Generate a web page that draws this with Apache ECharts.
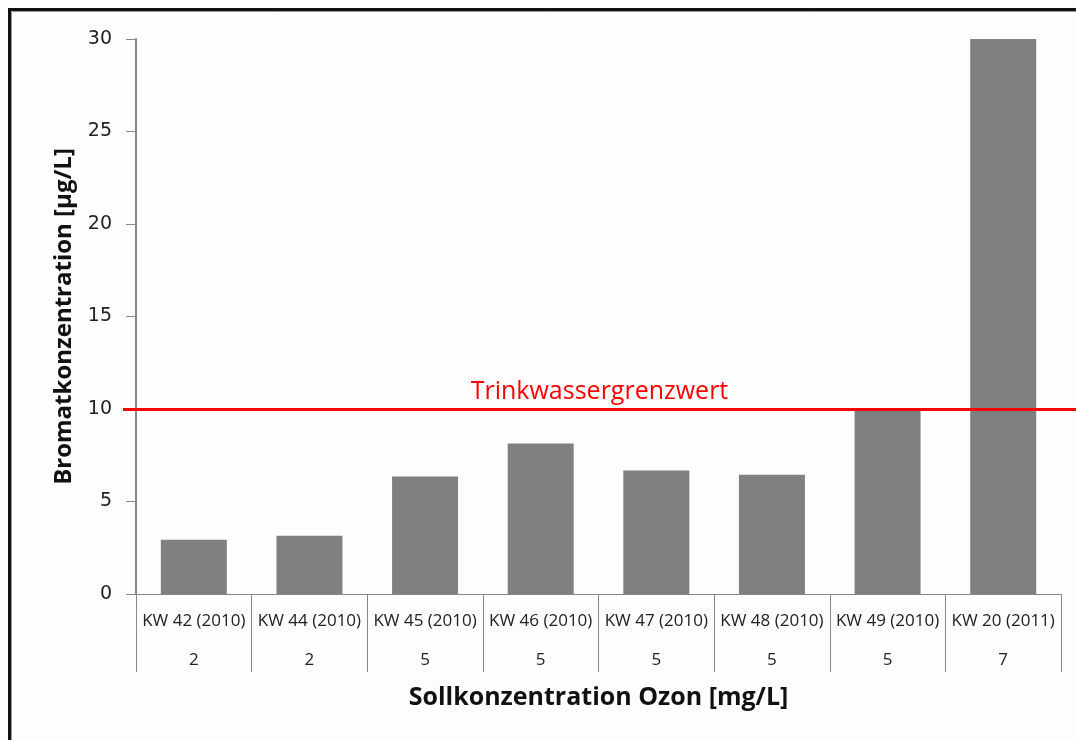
<!DOCTYPE html>
<html>
<head>
<meta charset="utf-8">
<script src="https://cdn.jsdelivr.net/npm/echarts@6/dist/echarts.min.js"></script>
<style>
html,body{margin:0;padding:0;background:#fff;}
#main{width:1076px;height:740px;}
</style>
</head>
<body>
<div id="main"></div>
<script>
const categories = ['KW 42 (2010)','KW 44 (2010)','KW 45 (2010)','KW 46 (2010)','KW 47 (2010)','KW 48 (2010)','KW 49 (2010)','KW 20 (2011)'];
const ozone = ['2','2','5','5','5','5','5','7'];
const bromate = [2.93, 3.15, 6.35, 8.13, 6.68, 6.45, 9.9, 30];
const limitValue = 10;
const limitLabel = 'Trinkwassergrenzwert';
const yTitle = 'Bromatkonzentration [µg/L]';
const xTitle = 'Sollkonzentration Ozon [mg/L]';

const chart = echarts.init(document.getElementById('main'));
const axisGray = '#878787';
chart.setOption({
  backgroundColor: '#fdfdfd',
  animation: false,
  graphic: [
    {type:'rect', shape:{x:9.5,y:9.5,width:1200,height:900}, style:{fill:'none', stroke:'#111', lineWidth:3}, z:100},
    {type:'rect', shape:{x:11.5,y:11.5,width:1200,height:900}, style:{fill:'none', stroke:'#9a9a9a', lineWidth:1}, z:100}
  ],
  grid: [
    {left:136, right:15, top:39, bottom:146},
    {left:123, right:0, top:39, bottom:146}
  ],
  xAxis: [
    {
      type:'category', gridIndex:0, data: categories,
      axisLine:{show:true, lineStyle:{color:axisGray, width:1}},
      axisTick:{show:true, length:78, interval:0, lineStyle:{color:axisGray, width:1}},
      axisLabel:{
        interval:0, margin:8,
        formatter: function(v, i){ return '{a|' + v + '}\n{b|' + ozone[i] + '}'; },
        rich:{
          a:{fontFamily:'Open Sans', fontSize:17, color:'#222', lineHeight:39},
          b:{fontFamily:'Open Sans', fontSize:17, color:'#222', lineHeight:39}
        }
      },
      name: xTitle, nameLocation:'middle', nameGap:91,
      nameTextStyle:{fontFamily:'Open Sans', fontWeight:'bold', fontSize:25, color:'#111'}
    },
    {type:'value', gridIndex:1, min:0, max:1, show:false}
  ],
  yAxis: [
    {
      type:'value', gridIndex:0, min:0, max:30, interval:5,
      axisLine:{show:true, lineStyle:{color:axisGray, width:2}},
      axisTick:{show:true, length:10, lineStyle:{color:axisGray, width:1}},
      splitLine:{show:false},
      axisLabel:{margin:24, fontFamily:'DejaVu Sans', fontSize:19, color:'#222'},
      name: yTitle, nameLocation:'middle', nameGap:60, nameRotate:90,
      nameTextStyle:{fontFamily:'Open Sans', fontWeight:'bold', fontSize:24, color:'#111'}
    },
    {type:'value', gridIndex:1, min:0, max:30, show:false}
  ],
  series: [
    {
      type:'bar', xAxisIndex:0, yAxisIndex:0, data: bromate,
      barWidth:66, itemStyle:{color:'#808080'}, z:2
    },
    {
      type:'line', xAxisIndex:1, yAxisIndex:1, data: [], z:5,
      markLine:{
        silent:true, symbol:['none','none'],
        lineStyle:{color:'#ff0000', width:3, type:'solid'},
        label:{show:true, position:'middle', formatter: limitLabel, color:'#ff0000',
               fontFamily:'Open Sans', fontSize:25, distance:5},
        data:[{yAxis: limitValue}]
      }
    }
  ]
});
</script>
</body>
</html>
